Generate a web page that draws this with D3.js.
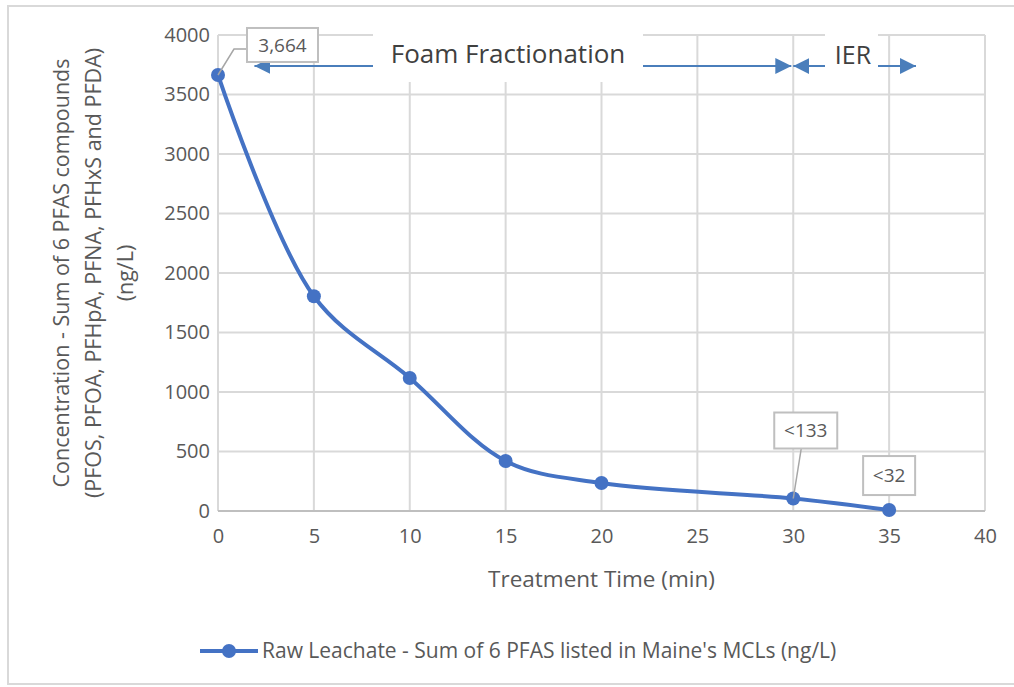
<!DOCTYPE html>
<meta charset="utf-8">
<style type="text/css">
   body { margin: 0; background: #fff; }
   text { font-family: "Open Sans", "Noto Sans", sans-serif; fill: #595959; }
   .grid line { stroke: #d9d9d9; stroke-width: 2; }
   .line { fill: none; stroke: #4472c4; stroke-width: 4; }
   .dot { fill: #4472c4; }
   .label-box { fill: #fff; stroke: #bfbfbf; stroke-width: 2; }
   .leader { stroke: #a6a6a6; stroke-width: 1.5; fill: none; }
   .phase { stroke: #4a7ebb; stroke-width: 2; }
</style>
<body></body>
<script src="https://d3js.org/d3.v7.min.js"></script>
<script>
// data
var times = [0, 5, 10, 15, 20, 30, 35];
var concentrations = [3664, 1805, 1118, 420, 235, 105, 8];
var xTickValues = [0, 5, 10, 15, 20, 25, 30, 35, 40];
var yTickValues = [0, 500, 1000, 1500, 2000, 2500, 3000, 3500, 4000];
var pointLabels = ["3,664", null, null, null, null, "<133", "<32"];
var phaseNames = ["Foam Fractionation", "IER"];
var phaseStart = [1.9, 30];
var phaseEnd = [29.9, 36.4];
var seriesName = "Raw Leachate - Sum of 6 PFAS listed in Maine's MCLs (ng/L)";

var width = 1014, height = 687;
var plot = {left: 218, right: 985, top: 35, bottom: 511};

var svg = d3.select("body")
    .append('svg')
    .attr('width', width)
    .attr('height', height);

// chart border
svg.append('rect')
    .attr('x', 8).attr('y', 6)
    .attr('width', width).attr('height', 678)
    .attr('fill', '#fff')
    .attr('stroke', '#d9d9d9')
    .attr('stroke-width', 2);

var xScale = d3.scaleLinear().domain([0, 40]).range([plot.left, plot.right]);
var yScale = d3.scaleLinear().domain([0, 4000]).range([plot.bottom, plot.top]);

// gridlines
var grid = svg.append('g').attr('class', 'grid');
grid.selectAll('.gy')
    .data(yTickValues)
    .enter().append('line')
    .attr('x1', plot.left).attr('x2', plot.right)
    .attr('y1', d => yScale(d)).attr('y2', d => yScale(d));
grid.selectAll('.gx')
    .data(xTickValues)
    .enter().append('line')
    .attr('x1', d => xScale(d)).attr('x2', d => xScale(d))
    .attr('y1', plot.top).attr('y2', plot.bottom);

// x axis line
svg.append('line')
    .attr('x1', plot.left).attr('x2', plot.right)
    .attr('y1', yScale(0)).attr('y2', yScale(0))
    .attr('stroke', '#bfbfbf').attr('stroke-width', 2);

// axes (labels only)
var xAxis = svg.append('g')
    .attr('transform', 'translate(0,' + (plot.bottom + 14) + ')')
    .call(d3.axisBottom(xScale).tickValues(xTickValues).tickSize(0).tickPadding(0));
var yAxis = svg.append('g')
    .attr('transform', 'translate(' + (plot.left - 8) + ',0)')
    .call(d3.axisLeft(yScale).tickValues(yTickValues).tickSize(0).tickPadding(0).tickFormat(d3.format('d')));
svg.selectAll('.domain').remove();
svg.selectAll('.tick text')
    .style('font-family', '"Open Sans", sans-serif')
    .style('font-size', '20px')
    .attr('fill', '#595959');
xAxis.selectAll('.tick text').attr('dy', '0.9em');

// axis titles
svg.append('text')
    .attr('x', xScale(20)).attr('y', 587)
    .style('text-anchor', 'middle')
    .style('font-size', '22.5px')
    .text('Treatment Time (min)');

var yTitle = svg.append('text')
    .attr('transform', 'translate(0,273) rotate(-90)')
    .style('text-anchor', 'middle')
    .style('font-size', '21.5px');
["Concentration - Sum of 6 PFAS compounds", "(PFOS, PFOA, PFHpA, PFNA, PFHxS and PFDA)", "(ng/L)"]
    .forEach(function (t, i) {
        yTitle.append('tspan').attr('x', 0).attr('y', 69 + i * 32).text(t);
    });

// phase arrows
var defs = svg.append('defs');
function marker(id, orient) {
    defs.append('marker')
        .attr('id', id)
        .attr('viewBox', '0 0 10 10')
        .attr('refX', 10).attr('refY', 5)
        .attr('markerWidth', 16).attr('markerHeight', 16)
        .attr('markerUnits', 'userSpaceOnUse')
        .attr('orient', orient)
        .append('path')
        .attr('d', 'M0,0L10,5L0,10Z')
        .attr('fill', '#4a7ebb');
}
marker('arrowEnd', 'auto');
marker('arrowStart', 'auto-start-reverse');

var arrowY = 66;
var phases = svg.append('g');
phaseNames.forEach(function (name, i) {
    phases.append('line')
        .attr('class', 'phase')
        .attr('x1', xScale(phaseStart[i])).attr('x2', xScale(phaseEnd[i]))
        .attr('y1', arrowY).attr('y2', arrowY)
        .attr('marker-start', 'url(#arrowStart)')
        .attr('marker-end', 'url(#arrowEnd)');
});
// white boxes behind phase titles
var boxFoam = [373, 28, 270, 54];
var boxIER = [825, 28, 53, 56];
[boxFoam, boxIER].forEach(function (b) {
    phases.append('rect')
        .attr('x', b[0]).attr('y', b[1]).attr('width', b[2]).attr('height', b[3])
        .attr('fill', '#fff');
});
phases.append('text')
    .attr('x', 508).attr('y', 63)
    .style('text-anchor', 'middle')
    .style('font-size', '26px')
    .style('fill', '#404040')
    .text(phaseNames[0]);
phases.append('text')
    .attr('x', 853).attr('y', 64)
    .style('text-anchor', 'middle')
    .style('font-size', '25px')
    .style('fill', '#404040')
    .text(phaseNames[1]);

// series
var data = times.map((t, i) => ({time: t, value: concentrations[i], label: pointLabels[i]}));
var line = d3.line()
    .x(d => xScale(d.time))
    .y(d => yScale(d.value))
    .curve(d3.curveCatmullRom.alpha(0.5));
svg.append('path')
    .datum(data)
    .attr('class', 'line')
    .attr('d', line);
svg.selectAll('.dot')
    .data(data)
    .enter().append('circle')
    .attr('class', 'dot')
    .attr('r', 7)
    .attr('cx', d => xScale(d.time))
    .attr('cy', d => yScale(d.value));

// data labels: [dx, dy, w, h] of box relative to point, and leader path
var labelLayout = {
    0: {box: [29, -47, 71, 34], leader: [[0, 0], [16, -26], [29, -26]]},
    5: {box: [-19, -86, 63, 36], leader: [[0, 0], [8, -50]]},
    6: {box: [-26, -54, 52, 39], leader: null}
};
var labels = svg.append('g');
data.forEach(function (d, i) {
    if (!d.label) return;
    var L = labelLayout[i];
    var px = xScale(d.time), py = yScale(d.value);
    if (L.leader) {
        labels.append('path')
            .attr('class', 'leader')
            .attr('d', d3.line()(L.leader.map(p => [px + p[0], py + p[1]])));
    }
    labels.append('rect')
        .attr('class', 'label-box')
        .attr('x', px + L.box[0]).attr('y', py + L.box[1])
        .attr('width', L.box[2]).attr('height', L.box[3]);
    labels.append('text')
        .attr('x', px + L.box[0] + L.box[2] / 2)
        .attr('y', py + L.box[1] + L.box[3] / 2)
        .attr('dy', '0.35em')
        .style('text-anchor', 'middle')
        .style('font-size', '19px')
        .text(d.label);
});

// legend
var legend = svg.append('g').attr('transform', 'translate(200,651)');
legend.append('line')
    .attr('x1', 0).attr('x2', 58)
    .attr('stroke', '#4472c4').attr('stroke-width', 4);
legend.append('circle')
    .attr('cx', 29).attr('r', 7).attr('fill', '#4472c4');
legend.append('text')
    .attr('x', 62).attr('dy', '0.35em')
    .style('font-size', '21px')
    .text(seriesName);
</script>
